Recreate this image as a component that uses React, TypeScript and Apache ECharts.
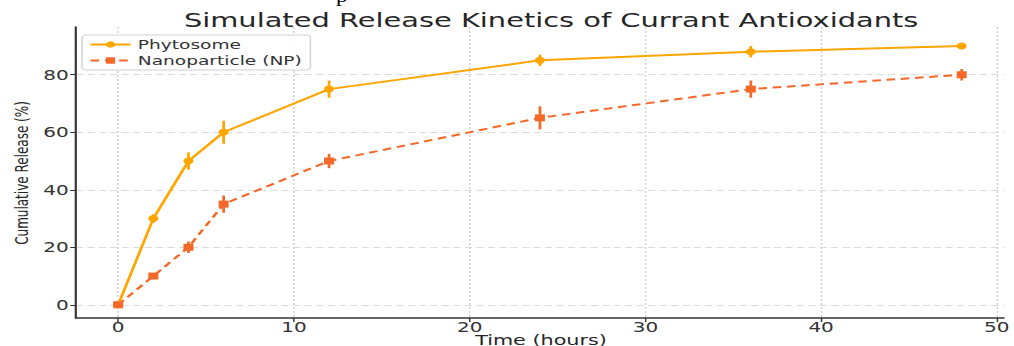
import React, { useEffect, useRef } from "react";
import * as echarts from "echarts";

const hours = [0, 2, 4, 6, 12, 24, 36, 48];
const phytosome = [0, 30, 50, 60, 75, 85, 88, 90];
const phytosomeErr = [0, 1.5, 3, 4, 3, 2, 2, 0.5];
const nanoparticle = [0, 10, 20, 35, 50, 65, 75, 80];
const nanoparticleErr = [0, 0.5, 2, 3, 2.5, 4, 3, 2];
const xTicks = [0, 10, 20, 30, 40, 50];
const yTicks = [0, 20, 40, 60, 80];

const C_PHY = "#FFA500";
const C_NP = "#F4692A";
const STRETCH = 1.43;
const W = 1014 / STRETCH;
const H = 346;

function errSeries(name: string, ys: number[], errs: number[], color: string) {
  return {
    type: "custom",
    name: name + " err",
    silent: true,
    z: 3,
    data: hours.map((h, i) => [h, ys[i] - errs[i], ys[i] + errs[i]]),
    renderItem: (params: any, api: any) => {
      const p1 = api.coord([api.value(0), api.value(1)]);
      const p2 = api.coord([api.value(0), api.value(2)]);
      return {
        type: "line",
        shape: { x1: p1[0], y1: p1[1], x2: p2[0], y2: p2[1] },
        style: { stroke: color, lineWidth: 1.9 },
      };
    },
  };
}

export default function App() {
  const ref = useRef<HTMLDivElement>(null);
  useEffect(() => {
    const chart = echarts.init(ref.current!, null, { renderer: "svg" });
    const font = "DejaVu Sans";
    chart.setOption({
      animation: false,
      backgroundColor: "#fff",
      title: {
        text: "Simulated Release Kinetics of Currant Antioxidants",
        left: 544 / STRETCH,
        textAlign: "center",
        top: 5,
        textStyle: { fontFamily: font, fontSize: 20.2, fontWeight: "normal", color: "#262626" },
      },
      grid: { left: 76 / STRETCH, right: 10 / STRETCH, top: 27, bottom: 28, outerBoundsMode: "none" },
      legend: {
        left: 82 / STRETCH,
        top: 35,
        orient: "vertical",
        padding: [3, 6, 3, 5],
        itemGap: 3,
        itemWidth: 28,
        itemHeight: 8,
        borderColor: "#d0d0d0",
        borderWidth: 1,
        borderRadius: 3,
        backgroundColor: "rgba(255,255,255,0.9)",
        textStyle: { fontFamily: font, fontSize: 13, color: "#333" },
        data: ["Phytosome", "Nanoparticle (NP)"],
      },
      xAxis: {
        type: "value",
        min: -2.4,
        max: 50.4,
        axisLine: { show: true, onZero: false, lineStyle: { color: "#333", width: 1.5 } },
        axisTick: { show: true, length: 4, customValues: xTicks, lineStyle: { color: "#333" } },
        axisLabel: { customValues: xTicks, fontFamily: font, fontSize: 14, lineHeight: 12, color: "#333", margin: 3 },
        splitLine: { show: true, lineStyle: { color: "#cfcfcf", type: [2, 2], width: 1 } },
      },
      yAxis: {
        type: "value",
        min: -4.6,
        max: 96.6,
        axisLine: { show: true, onZero: false, lineStyle: { color: "#333", width: 1.5 } },
        axisTick: { show: true, length: 4, customValues: yTicks, lineStyle: { color: "#333" } },
        axisLabel: { customValues: yTicks, fontFamily: font, fontSize: 14, color: "#333", margin: 5 },
        splitLine: { show: true, lineStyle: { color: "#dcdcdc", type: [5, 3], width: 1 } },
      },
      graphic: [
        {
          type: "text",
          x: 22 / STRETCH,
          y: 173,
          rotation: Math.PI / 2,
          style: {
            text: "Cumulative Release (%)",
            fontFamily: font,
            fontSize: 12,
            fill: "#262626",
            align: "center",
            verticalAlign: "middle",
          },
        },
        {
          type: "text",
          x: 541 / STRETCH,
          y: 333.5,
          style: {
            text: "Time (hours)",
            fontFamily: font,
            fontSize: 14.5,
            lineHeight: 12.5,
            fill: "#262626",
            align: "center",
            verticalAlign: "top",
          },
        },
        {
          type: "text",
          x: 336 / STRETCH,
          y: -12,
          style: { text: "p", fontFamily: "serif", fontSize: 16, fill: "#000" },
        },
      ],
      series: [
        errSeries("Phytosome", phytosome, phytosomeErr, C_PHY),
        errSeries("Nanoparticle (NP)", nanoparticle, nanoparticleErr, C_NP),
        {
          type: "line",
          name: "Phytosome",
          data: hours.map((h, i) => [h, phytosome[i]]),
          symbol: "circle",
          symbolSize: 7,
          z: 4,
          itemStyle: { color: C_PHY },
          lineStyle: { color: C_PHY, width: 2 },
        },
        {
          type: "line",
          name: "Nanoparticle (NP)",
          data: hours.map((h, i) => [h, nanoparticle[i]]),
          symbol: "rect",
          symbolSize: 7,
          z: 4,
          itemStyle: { color: C_NP },
          lineStyle: { color: C_NP, width: 2, type: [6, 4] },
        },
      ],
    });
    return () => chart.dispose();
  }, []);
  return (
    <div style={{ position: "fixed", left: 0, top: 0, width: 1014, height: H, overflow: "hidden", background: "#fff" }}>
      <div
        ref={ref}
        style={{ width: W, height: H, transform: `scaleX(${STRETCH})`, transformOrigin: "0 0" }}
      />
    </div>
  );
}
